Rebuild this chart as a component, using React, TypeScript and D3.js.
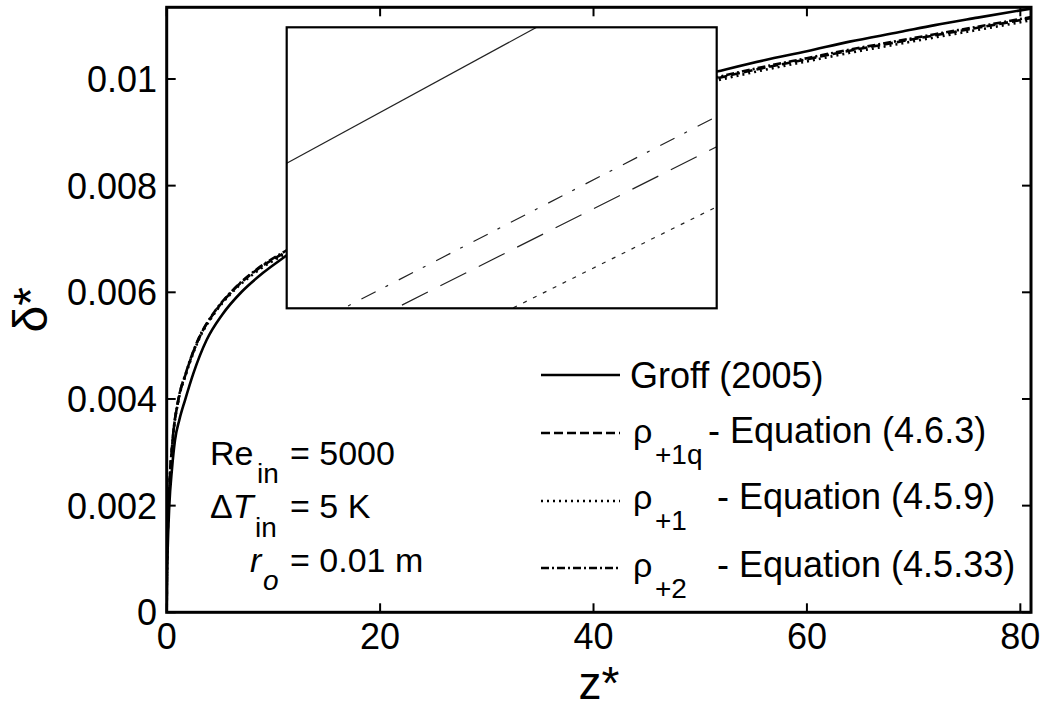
import React from "react";
import * as d3 from "d3";

// ---------- data ----------
const zGroff = [0, 0.02, 0.08, 0.24, 0.5, 0.78, 1.2, 1.72, 2.5, 3.75, 5.2, 7.03, 9, 11.09, 15, 20, 25, 30, 35, 40, 45, 51.55, 56, 60, 64, 68.7, 72, 76, 81];
const groff = [0, 0.00055, 0.0011, 0.00198, 0.0027, 0.00323, 0.00362, 0.00398, 0.00448, 0.00511, 0.00558, 0.00601, 0.00636, 0.00667, 0.00723, 0.00784, 0.00834, 0.00878, 0.00916, 0.0095, 0.00982, 0.01014, 0.01035, 0.01052, 0.0107, 0.01088, 0.01101, 0.01115, 0.01132];

const zModel = [0, 0.02, 0.08, 0.24, 0.56, 1.09, 1.8, 2.96, 4.5, 6.09, 8.5, 11.09, 15, 20, 25, 30, 35, 40, 45, 51.55, 56, 60, 64, 68.7, 72, 76, 81];
const rho1q = [0, 0.0007, 0.0014, 0.0023, 0.00323, 0.00398, 0.00448, 0.00511, 0.00563, 0.00601, 0.00643, 0.00675, 0.00722, 0.00778, 0.00826, 0.00867, 0.00903, 0.00935, 0.00965, 0.01001, 0.01021, 0.01037, 0.01053, 0.0107, 0.01082, 0.01096, 0.01114];
const rho1 = [0, 0.0007, 0.0014, 0.0023, 0.00322, 0.00396, 0.00446, 0.00509, 0.00561, 0.00599, 0.0064, 0.00672, 0.00719, 0.00775, 0.00822, 0.00863, 0.00899, 0.00931, 0.00961, 0.00997, 0.01017, 0.01033, 0.01049, 0.01066, 0.01078, 0.01092, 0.0111];
const rho2 = [0, 0.0007, 0.0014, 0.0023, 0.00324, 0.00399, 0.00449, 0.00512, 0.00564, 0.00602, 0.00644, 0.00677, 0.00724, 0.0078, 0.00828, 0.00869, 0.00905, 0.00937, 0.00967, 0.01003, 0.01023, 0.01039, 0.01055, 0.01072, 0.01084, 0.01098, 0.01116];

// inset (zoomed view) data
const insetZ = [60, 61];
const insetGroff = [0.0105413, 0.0106079];
const insetRho2 = [0.0104917, 0.0105546];
const insetRho1q = [0.0104844, 0.010546];
const insetRho1 = [0.0104681, 0.0105289];

const xTicks = [0, 20, 40, 60, 80];
const xTickLabels = ["0", "20", "40", "60", "80"];
const yTicks = [0, 0.002, 0.004, 0.006, 0.008, 0.01];
const yTickLabels = ["0", "0.002", "0.004", "0.006", "0.008", "0.01"];

const legendNames = ["Groff (2005)", "- Equation (4.6.3)", "- Equation (4.5.9)", "- Equation (4.5.33)"];
const legendSubs = ["", "+1q", "+1", "+2"];

// ---------- layout ----------
const W = 1049, H = 711;
const L = 166.7, R = 1031, T = 7.3, B = 612.3;
const IL = 286.7, IR = 716.7, IT = 27.3, IB = 308.3;
const FONT = "'Liberation Sans', Arial, Helvetica, sans-serif";

export default function App() {
  const x = d3.scaleLinear().domain([0, 81]).range([L, R]);
  const y = d3.scaleLinear().domain([0, 0.011344]).range([B, T]);
  const ix = d3.scaleLinear().domain([60, 61]).range([IL, IR]);
  const iy = d3.scaleLinear().domain([0.0105, 0.01058]).range([IB, IT]);

  const mk = (xs: number[], ys: number[]) =>
    d3.line<number>().x((_, i) => x(xs[i])).y((d) => y(d)).curve(d3.curveMonotoneX)(ys) || "";
  const mki = (xs: number[], ys: number[]) =>
    d3.line<number>().x((_, i) => ix(xs[i])).y((d) => iy(d))(ys) || "";

  const series = [
    { d: mk(zModel, rho1), dash: "2,4" },
    { d: mk(zModel, rho1q), dash: "9,4" },
    { d: mk(zModel, rho2), dash: "8,3,2,3" },
    { d: mk(zGroff, groff), dash: "" },
  ];
  const insetSeries = [
    { d: mki(insetZ, insetGroff), dash: "" },
    { d: mki(insetZ, insetRho2), dash: "16,11,3,12" },
    { d: mki(insetZ, insetRho1q), dash: "29,14" },
    { d: mki(insetZ, insetRho1), dash: "4,7" },
  ];

  const legendLineY = [375, 433, 501, 568];
  const legendBase = [388, 443, 509, 577];
  const legendTextX = [630, 708, 717, 717];
  const legendDash = ["", "9,4", "2,4", "8,3,2,3"];

  const tl = 9;
  return (
    <>
      <style>{"body{margin:0}"}</style>
      <svg width={W} height={H} style={{ display: "block", background: "#fff" }} fontFamily={FONT}>
        <defs>
          <clipPath id="plotClip">
            <rect x={L} y={T} width={R - L} height={B - T} />
          </clipPath>
          <clipPath id="insetClip">
            <rect x={IL} y={IT} width={IR - IL} height={IB - IT} />
          </clipPath>
        </defs>
        <rect x={0} y={0} width={W} height={H} fill="#fff" />

        {/* main curves */}
        <g clipPath="url(#plotClip)">
          {series.map((s, i) => (
            <path key={i} d={s.d} fill="none" stroke="#000" strokeWidth={2.6} strokeDasharray={s.dash || undefined} />
          ))}
        </g>

        {/* ticks */}
        {xTicks.map((t, i) => (
          <g key={"xt" + i}>
            <line x1={x(t)} x2={x(t)} y1={B} y2={B - tl} stroke="#000" strokeWidth={2} />
            <line x1={x(t)} x2={x(t)} y1={T} y2={T + tl} stroke="#000" strokeWidth={2} />
            <text x={x(t)} y={649} fontSize={36} textAnchor="middle">{xTickLabels[i]}</text>
          </g>
        ))}
        {yTicks.map((t, i) => (
          <g key={"yt" + i}>
            <line x1={L} x2={L + tl} y1={y(t)} y2={y(t)} stroke="#000" strokeWidth={2} />
            <line x1={R} x2={R - tl} y1={y(t)} y2={y(t)} stroke="#000" strokeWidth={2} />
            <text x={157} y={y(t)} dy="0.36em" fontSize={36} textAnchor="end">{yTickLabels[i]}</text>
          </g>
        ))}
        <rect x={L} y={T} width={R - L} height={B - T} fill="none" stroke="#000" strokeWidth={3} />

        {/* axis labels */}
        <text x={(L + R) / 2} y={699} fontSize={46} textAnchor="middle">z*</text>
        <text transform={`translate(47,${(T + B) / 2}) rotate(-90)`} fontSize={48} textAnchor="middle">δ*</text>

        {/* inset */}
        <rect x={IL} y={IT} width={IR - IL} height={IB - IT} fill="#fff" stroke="none" />
        <g clipPath="url(#insetClip)">
          {insetSeries.map((s, i) => (
            <path key={i} d={s.d} fill="none" stroke="#222" strokeWidth={1.2} strokeDasharray={s.dash || undefined} />
          ))}
        </g>
        <rect x={IL} y={IT} width={IR - IL} height={IB - IT} fill="none" stroke="#000" strokeWidth={2.2} />

        {/* legend */}
        {legendNames.map((n, i) => (
          <g key={"lg" + i}>
            <line x1={541} x2={620} y1={legendLineY[i]} y2={legendLineY[i]} stroke="#000" strokeWidth={2.4}
              strokeDasharray={legendDash[i] || undefined} />
            {i > 0 && (
              <>
                <text x={633} y={legendBase[i]} fontSize={34}>ρ</text>
                <text x={655} y={legendBase[i] + 21} fontSize={28}>{legendSubs[i]}</text>
              </>
            )}
            <text x={legendTextX[i]} y={legendBase[i]} fontSize={36}>{n}</text>
          </g>
        ))}

        {/* annotation */}
        <text x={210} y={465} fontSize={34}>Re</text>
        <text x={257} y={483} fontSize={28}>in</text>
        <text x={290} y={465} fontSize={34}>= 5000</text>

        <text x={210} y={518} fontSize={34}>Δ<tspan fontStyle="italic">T</tspan></text>
        <text x={255} y={537} fontSize={28}>in</text>
        <text x={290} y={518} fontSize={34}>= 5 K</text>

        <text x={250} y={572} fontSize={34} fontStyle="italic">r</text>
        <text x={263} y={590} fontSize={28} fontStyle="italic">o</text>
        <text x={290} y={572} fontSize={34}>= 0.01 m</text>
      </svg>
    </>
  );
}
